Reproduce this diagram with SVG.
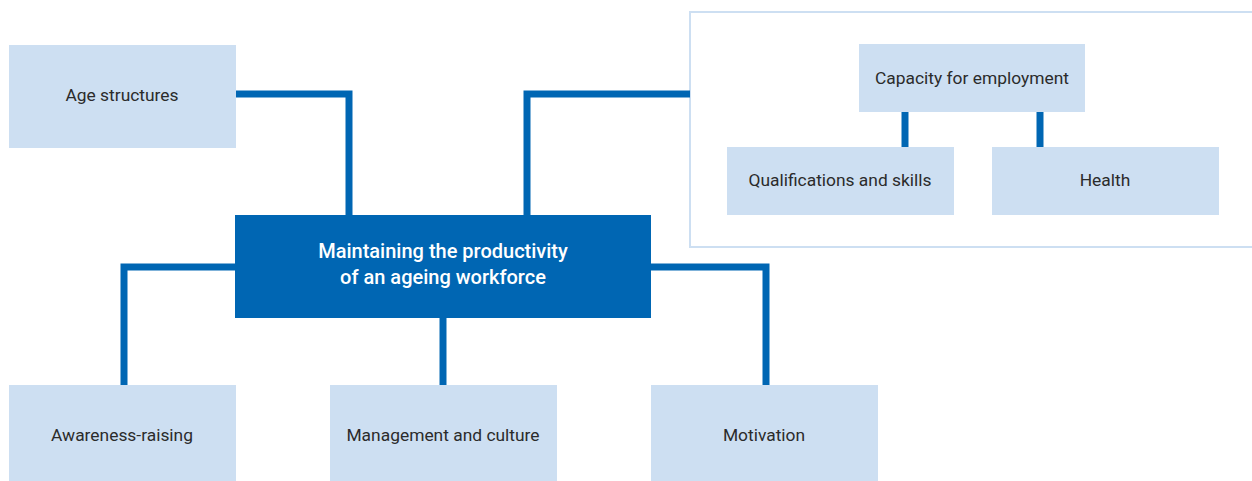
<svg xmlns="http://www.w3.org/2000/svg" width="1252" height="481" viewBox="0 0 1252 481">
<style>
.box{fill:#cddff2}
.main{fill:#0066b3}
.lbl{font-family:Roboto,"Liberation Sans",sans-serif;font-size:17.4px;fill:#2b2b2b;text-anchor:middle;dominant-baseline:central}
.mlbl{font-family:Roboto,"Liberation Sans",sans-serif;font-size:20px;font-weight:500;fill:#ffffff;text-anchor:middle;dominant-baseline:central}
.con{fill:none;stroke:#0066b3;stroke-width:7}
.frame{fill:none;stroke:#cddff2;stroke-width:2}
</style>
<rect width="1252" height="481" fill="#ffffff"/>
<rect id="frame" class="frame" x="690" y="12" width="570" height="235"/>
<g id="connectors">
<polyline class="con" points="236,94 349,94 349,215"/>
<polyline class="con" points="527,215 527,94 690,94"/>
<polyline class="con" points="235,267 124,267 124,385"/>
<line class="con" x1="443" y1="318" x2="443" y2="385"/>
<polyline class="con" points="651,267 766,267 766,385"/>
<line class="con" x1="905" y1="112" x2="905" y2="147"/>
<line class="con" x1="1040" y1="112" x2="1040" y2="147"/>
</g>
<g id="age"><rect class="box" x="9" y="45" width="227" height="103"/><text class="lbl" x="122" y="95">Age structures</text></g>
<g id="main"><rect class="main" x="235" y="215" width="416" height="103"/><text class="mlbl" x="443" y="251">Maintaining the productivity</text><text class="mlbl" x="443" y="277">of an ageing workforce</text></g>
<g id="capacity"><rect class="box" x="859" y="44" width="226" height="68"/><text class="lbl" x="972" y="78">Capacity for employment</text></g>
<g id="qualifications"><rect class="box" x="727" y="147" width="227" height="68"/><text class="lbl" x="840" y="180">Qualifications and skills</text></g>
<g id="health"><rect class="box" x="992" y="147" width="227" height="68"/><text class="lbl" x="1105" y="180">Health</text></g>
<g id="awareness"><rect class="box" x="9" y="385" width="227" height="96"/><text class="lbl" x="122" y="435">Awareness-raising</text></g>
<g id="management"><rect class="box" x="330" y="385" width="227" height="96"/><text class="lbl" x="443" y="435">Management and culture</text></g>
<g id="motivation"><rect class="box" x="651" y="385" width="227" height="96"/><text class="lbl" x="764" y="435">Motivation</text></g>
</svg>
